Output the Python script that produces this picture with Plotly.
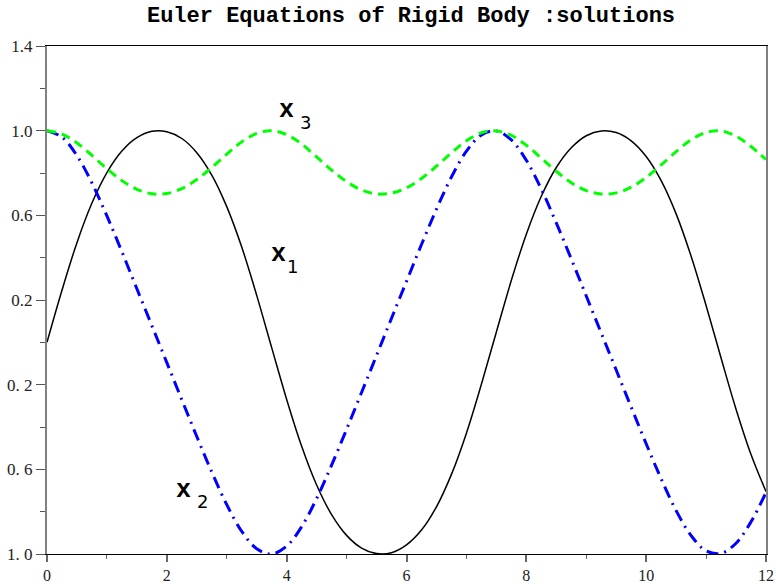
import plotly.graph_objects as go

# time samples and solution values
t = [0.00, 0.25, 0.50, 0.75, 1.00, 1.25, 1.50, 1.75, 2.00, 2.25, 2.50, 2.75,
     3.00, 3.25, 3.50, 3.75, 4.00, 4.25, 4.50, 4.75, 5.00, 5.25, 5.50, 5.75,
     6.00, 6.25, 6.50, 6.75, 7.00, 7.25, 7.50, 7.75, 8.00, 8.25, 8.50, 8.75,
     9.00, 9.25, 9.50, 9.75, 10.00, 10.25, 10.50, 10.75, 11.00, 11.25, 11.50,
     11.75, 12.00]

x1 = [0.000, 0.246, 0.471, 0.658, 0.802, 0.904, 0.967, 0.997, 0.995, 0.963,
      0.896, 0.790, 0.641, 0.450, 0.222, -0.025, -0.270, -0.491, -0.674,
      -0.814, -0.912, -0.972, -0.998, -0.994, -0.957, -0.887, -0.777, -0.624,
      -0.429, -0.198, 0.049, 0.293, 0.511, 0.690, 0.826, 0.919, 0.976, 0.999,
      0.991, 0.952, 0.878, 0.764, 0.607, 0.407, 0.174, -0.074, -0.316, -0.530,
      -0.705]

x2 = [1.000, 0.969, 0.882, 0.753, 0.597, 0.428, 0.253, 0.079, -0.096, -0.271,
      -0.445, -0.613, -0.767, -0.893, -0.975, -1.000, -0.963, -0.871, -0.738,
      -0.580, -0.411, -0.237, -0.062, 0.114, 0.288, 0.462, 0.629, 0.781, 0.903,
      0.980, 0.999, 0.956, 0.860, 0.724, 0.564, 0.394, 0.219, 0.044, -0.131,
      -0.306, -0.479, -0.645, -0.795, -0.913, -0.985, -0.997, -0.949, -0.848,
      -0.709]

x3 = [1.000, 0.984, 0.942, 0.883, 0.820, 0.764, 0.723, 0.702, 0.703, 0.726,
      0.769, 0.826, 0.889, 0.947, 0.987, 1.000, 0.981, 0.937, 0.876, 0.814,
      0.759, 0.720, 0.701, 0.705, 0.730, 0.774, 0.832, 0.895, 0.952, 0.990,
      0.999, 0.978, 0.931, 0.870, 0.808, 0.754, 0.717, 0.701, 0.706, 0.733,
      0.779, 0.838, 0.901, 0.957, 0.992, 0.999, 0.974, 0.925, 0.864]

y_tickvals = [-1.0, -0.6, -0.2, 0.2, 0.6, 1.0, 1.4]
y_ticktext = ["1. 0", "0. 6", "0. 2", "0.2", "0.6", "1.0", "1.4"]
y_minor = [-0.8, -0.4, 0.0, 0.4, 0.8, 1.2]
x_tickvals = [0, 2, 4, 6, 8, 10, 12]
x_minor = [1, 3, 5, 7, 9, 11]

title_text = "Euler Equations of Rigid Body :solutions"

# label glyphs: (base text, x, y) and (subscript, x, y)
labels = [("x", 4.00, 1.095, "3", 4.32, 1.04),
          ("x", 3.86, 0.415, "1", 4.10, 0.36),
          ("x", 2.27, -0.70, "2", 2.59, -0.75)]

SERIF = "Liberation Serif, Times New Roman, Times, serif"
MONO = "Liberation Mono, Courier New, Courier, monospace"

fig = go.Figure()
fig.add_trace(go.Scatter(x=t, y=x1, mode="lines", line_shape="spline",
                         line=dict(color="black", width=1.5), name="x1"))
fig.add_trace(go.Scatter(x=t, y=x2, mode="lines", line_shape="spline",
                         line=dict(color="#0000ff", width=3,
                                   dash="12px,6px,2px,6px"), name="x2"))
fig.add_trace(go.Scatter(x=t, y=x3, mode="lines", line_shape="spline",
                         line=dict(color="#00ff00", width=3,
                                   dash="9px,6px"), name="x3"))

for base, bx, by, sub, sx, sy in labels:
    fig.add_annotation(x=bx, y=by, text="<b>" + base + "</b>", showarrow=False,
                       xanchor="center", yanchor="middle",
                       font=dict(family=MONO, size=25, color="black"))
    fig.add_annotation(x=sx, y=sy, text=sub, showarrow=False,
                       xanchor="center", yanchor="middle",
                       font=dict(family="DejaVu Sans", size=18, color="black"))

fig.update_layout(
    width=776, height=584,
    margin=dict(l=47, r=10, t=46, b=30, autoexpand=False),
    paper_bgcolor="white", plot_bgcolor="white",
    showlegend=False,
    title=dict(text="<b>" + title_text + "</b>", x=411 / 776, xanchor="center",
               y=1 - 14 / 584, yanchor="middle",
               font=dict(family=MONO, size=22, color="black")),
)
fig.update_xaxes(range=[0, 12], showgrid=False, zeroline=False, automargin=False,
                 showline=True, linecolor="black", linewidth=1, mirror=True,
                 ticks="outside", ticklen=7, tickwidth=1.5, tickcolor="#666666",
                 tickmode="array", tickvals=x_tickvals,
                 tickfont=dict(family=SERIF, size=16, color="#222222"),
                 minor=dict(tickmode="array", tickvals=x_minor, ticks="outside",
                            ticklen=4, tickwidth=1, tickcolor="#666666"))
fig.update_yaxes(range=[-1.0, 1.4], showgrid=False, zeroline=False, automargin=False,
                 showline=True, linecolor="#808080", linewidth=2, mirror=True,
                 ticks="outside", ticklen=9, tickwidth=1.2, tickcolor="#555555",
                 tickmode="array", tickvals=y_tickvals, ticktext=y_ticktext,
                 tickfont=dict(family=SERIF, size=17, color="#222222"),
                 minor=dict(tickmode="array", tickvals=y_minor, ticks="outside",
                            ticklen=5, tickwidth=1, tickcolor="#555555"))

fig.write_html("out.html")
